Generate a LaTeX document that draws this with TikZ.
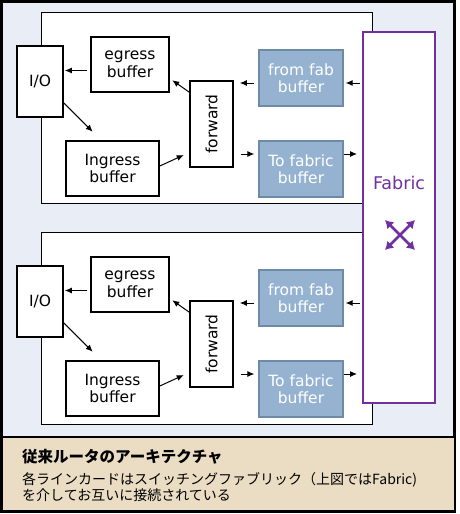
\documentclass[tikz,border=0pt]{standalone}
\usepackage{fontspec}
\setmainfont{DejaVu Sans}
\newfontfamily\jpfont{Noto Sans CJK JP}
\usetikzlibrary{arrows.meta}
\definecolor{panelbg}{HTML}{E9EEF6}
\definecolor{capbg}{HTML}{EBDDC4}
\definecolor{buffill}{HTML}{95B3D1}
\definecolor{bufedge}{HTML}{6D8BA7}
\definecolor{fabpurple}{HTML}{7030A0}
\begin{document}
\begin{tikzpicture}[x=1pt, y=-1pt,
    box/.style={draw, line width=1.6pt, fill=white, inner sep=0pt, align=center,
      font=\fontsize{15.5}{17.5}\selectfont},
    bufbox/.style={draw=bufedge, line width=1.2pt, fill=buffill, text=white, inner sep=0pt,
      align=center, minimum width=84pt, minimum height=56pt, font=\fontsize{15.5}{17.5}\selectfont},
    arr/.style={-{Latex[length=7pt,width=6pt]}, line width=1pt}]
  \useasboundingbox (0,0) rectangle (460,514);
  % outer panel and caption band
  \draw[line width=3pt, fill=panelbg] (1.5,1.5) rectangle (454.5,511);
  \draw[line width=2pt, fill=capbg] (1.5,437) rectangle (454.5,511);
  \node[anchor=west, inner sep=0pt, font=\jpfont\bfseries\fontsize{15.5}{18}\selectfont] (title) at (22,456.5) {従来ルータのアーキテクチャ};
  \node[anchor=west, inner sep=0pt, align=left, font=\jpfont\fontsize{14}{16.5}\selectfont] (desc) at (22,487)
    {各ラインカードはスイッチングファブリック（上図ではFabric)\\を介してお互いに接続されている};

  % line cards
  \draw[line width=1pt, fill=white] (41.5,12) rectangle (372,203);
  \draw[line width=1pt, fill=white] (41.5,232) rectangle (372,424);

  % switching fabric
  \node[draw=fabpurple, line width=2pt, fill=white, minimum width=72pt, minimum height=371pt] (fab) at (399,217.5) {};
  \node[text=fabpurple, font=\fontsize{17.5}{20}\selectfont] (fablabel) at (399,183) {Fabric};
  \coordinate (cross) at (400,235);
  \draw[fabpurple, line width=2.5pt, {Latex[length=8pt,width=10pt]}-{Latex[length=8pt,width=10pt]}]
    ([shift={(-15,-15)}]cross) -- ([shift={(15,15)}]cross);
  \draw[fabpurple, line width=2.5pt, {Latex[length=8pt,width=10pt]}-{Latex[length=8pt,width=10pt]}]
    ([shift={(-15,15)}]cross) -- ([shift={(15,-15)}]cross);

  \foreach \c/\dy in {a/0, b/220} {
    \node[box, minimum width=46pt, minimum height=71pt] (io\c) at (40,81.5+\dy) {I/O};
    \node[box, minimum width=78pt, minimum height=55pt] (eg\c) at (130,64.5+\dy) {egress\\buffer};
    \node[box, minimum width=93pt, minimum height=55pt] (ing\c) at (112.5,168.5+\dy) {Ingress\\buffer};
    \node[box, minimum width=43pt, minimum height=86pt] (fw\c) at (211.5,124+\dy) {};
    \node[rotate=90, font=\fontsize{15.5}{17.5}\selectfont] at (fw\c) {forward};
    \node[bufbox] (ff\c) at (301,78+\dy) {from fab\\buffer};
    \node[bufbox] (tf\c) at (301,169+\dy) {To fabric\\buffer};

    \draw[arr, shorten <=3pt, shorten >=1pt] ([yshift=-6pt]eg\c.west) -- ([yshift=-6pt]eg\c.west -| io\c.east);
    \draw[arr, shorten >=12pt] (io\c.-42) -- ([xshift=36pt]ing\c.north west);
    \draw[arr, shorten >=6pt] ([yshift=2.5pt]ing\c.east) -- (fw\c.232);
    \draw[arr, shorten >=3pt] (fw\c.125) -- ([yshift=-14pt]eg\c.east);
    \draw[arr, shorten <=4pt, shorten >=6pt] ([yshift=-5pt]ff\c.west) -- ([yshift=-5pt]ff\c.west -| fw\c.east);
    \draw[arr, shorten <=2pt, shorten >=2pt] ([yshift=-5pt]ff\c.east -| fab.west) -- ([yshift=-5pt]ff\c.east);
    \draw[arr, shorten <=7pt, shorten >=4pt] ([yshift=15pt]tf\c.west -| fw\c.east) -- ([yshift=15pt]tf\c.west);
    \draw[arr, shorten >=5pt] ([yshift=15pt]tf\c.east) -- ([yshift=15pt]tf\c.east -| fab.west);
  }
\end{tikzpicture}
\end{document}
